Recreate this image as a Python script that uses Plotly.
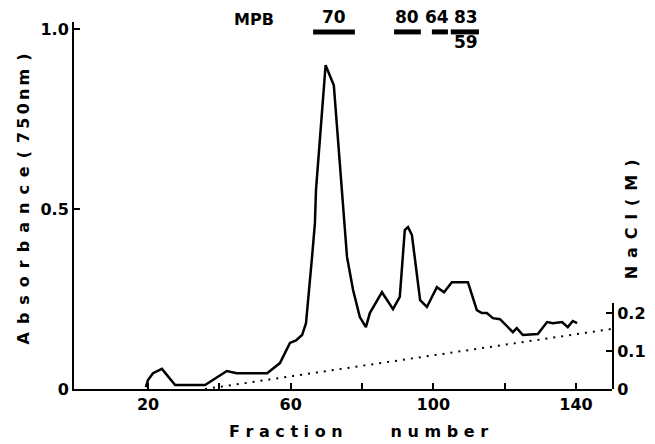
import plotly.graph_objects as go

# Absorbance profile (750 nm) vs fraction number
fraction = [19.4, 20.0, 21.4, 23.9, 27.6, 36.0, 42.1, 44.9, 53.4, 57.0, 59.8, 61.5, 63.2, 64.3,
            66.0, 66.8, 67.1, 68.5, 69.8, 72.1, 74.7, 75.8, 77.5, 79.4, 81.1, 82.2, 85.6, 88.7,
            90.6, 92.0, 92.9, 94.0, 96.3, 98.2, 101.0, 103.0, 105.2, 109.7, 112.2, 113.6, 115.0,
            116.7, 118.7, 122.3, 123.4, 125.1, 129.3, 131.9, 133.5, 136.1, 137.7, 139.1, 140.3]
absorbance = [0.005, 0.025, 0.044, 0.056, 0.011, 0.011, 0.05, 0.044, 0.044, 0.072, 0.128, 0.135,
              0.15, 0.183, 0.367, 0.461, 0.553, 0.73, 0.9, 0.844, 0.525, 0.367, 0.275, 0.2, 0.172,
              0.211, 0.269, 0.222, 0.256, 0.442, 0.45, 0.428, 0.247, 0.228, 0.283, 0.269, 0.297,
              0.297, 0.219, 0.211, 0.211, 0.197, 0.194, 0.158, 0.169, 0.15, 0.153, 0.186, 0.183,
              0.186, 0.172, 0.189, 0.183]

# NaCl gradient (M)
nacl_fraction = [36, 150]
nacl_molar = [0.0, 0.158]

# MPB pools
pool_label_top = ["70", "80", "64", "83"]
pool_label_bottom = ["", "", "", "59"]
pool_start = [66.3, 89.0, 99.6, 104.9]
pool_end = [78.0, 96.5, 104.1, 112.8]

x_tickvals = [20, 40, 60, 80, 100, 120, 140]
x_ticktext = ["20", "", "60", "", "100", "", "140"]

FONT = "DejaVu Sans"
EN = "\u2002"
THIN = "\u2009"

# label nudges (style only, pixels)
label_nudge = [0, 0, -3, 1]


def bold(size):
    return dict(size=size, family=FONT, weight="bold", color="black")


def spaced(word, sep=EN):
    return sep.join(list(word))


fig = go.Figure()
fig.add_trace(go.Scatter(x=fraction, y=absorbance, mode="lines",
                         line=dict(color="black", width=2.5), yaxis="y", showlegend=False))
fig.add_trace(go.Scatter(x=nacl_fraction, y=nacl_molar, mode="lines",
                         line=dict(color="black", width=2, dash="2px,6px"), yaxis="y2",
                         showlegend=False))

shapes = []
annotations = []
for lt, lb, s, e, dx in zip(pool_label_top, pool_label_bottom, pool_start, pool_end, label_nudge):
    shapes.append(dict(type="line", xref="x", yref="paper", x0=s, x1=e, y0=0.973, y1=0.973,
                       line=dict(color="black", width=5)))
    c = (s + e) / 2
    annotations.append(dict(x=c, y=1.013, xref="x", yref="paper", text=lt, showarrow=False,
                            xshift=dx, xanchor="center", yanchor="middle", font=bold(17)))
    if lb:
        annotations.append(dict(x=c, y=0.945, xref="x", yref="paper", text=lb, showarrow=False,
                                xshift=dx, xanchor="center", yanchor="middle", font=bold(17)))

annotations.append(dict(x=49.7, y=1.008, xref="x", yref="paper", text="MPB", showarrow=False,
                        xanchor="center", yanchor="middle", font=bold(16)))

ytitle = spaced("Absorbance") + EN + "(" + EN + spaced("750nm", THIN) + EN + ")"
annotations.append(dict(x=-0.093, y=0.519, xref="paper", yref="paper", textangle=-90,
                        xanchor="center", yanchor="middle", text=ytitle, showarrow=False,
                        font=bold(16)))
y2title = spaced("NaCl") + EN + "(" + EN + "M" + EN + ")"
annotations.append(dict(x=1.037, y=0.462, xref="paper", yref="paper", textangle=-90,
                        xanchor="center", yanchor="middle", text=y2title, showarrow=False,
                        font=bold(16)))
annotations.append(dict(x=0.528, y=-0.117, xref="paper", yref="paper",
                        xanchor="center", yanchor="middle",
                        text="F r a c t i o n\u2003\u2003\u2003n u m b e r", showarrow=False,
                        font=bold(16)))

axis_common = dict(showgrid=False, zeroline=False, showline=True, linecolor="black",
                   linewidth=2, ticks="inside", ticklen=6, tickwidth=2, tickcolor="black",
                   automargin=False)

fig.update_layout(
    width=655, height=444,
    margin=dict(l=74, r=43, t=22, b=55),
    paper_bgcolor="white", plot_bgcolor="rgba(0,0,0,0)",
    font=bold(16),
    xaxis=dict(range=[-0.75, 150.1], tickvals=x_tickvals, ticktext=x_ticktext,
               tickfont=bold(16), **axis_common),
    yaxis=dict(range=[0, 1.02], tickvals=[0, 0.5, 1.0], ticktext=["0", "0.5", "1.0"],
               tickfont=bold(16), **axis_common),
    yaxis2=dict(range=[0, 0.226], domain=[0, 0.234], anchor="x", side="right",
                tickvals=[0, 0.1, 0.2], ticktext=["0", "0.1", "0.2"],
                tickfont=bold(16), **axis_common),
    shapes=shapes,
    annotations=annotations,
)

fig.write_html("out.html", config={"displayModeBar": False},
               post_script="document.body.style.margin='0px';")
